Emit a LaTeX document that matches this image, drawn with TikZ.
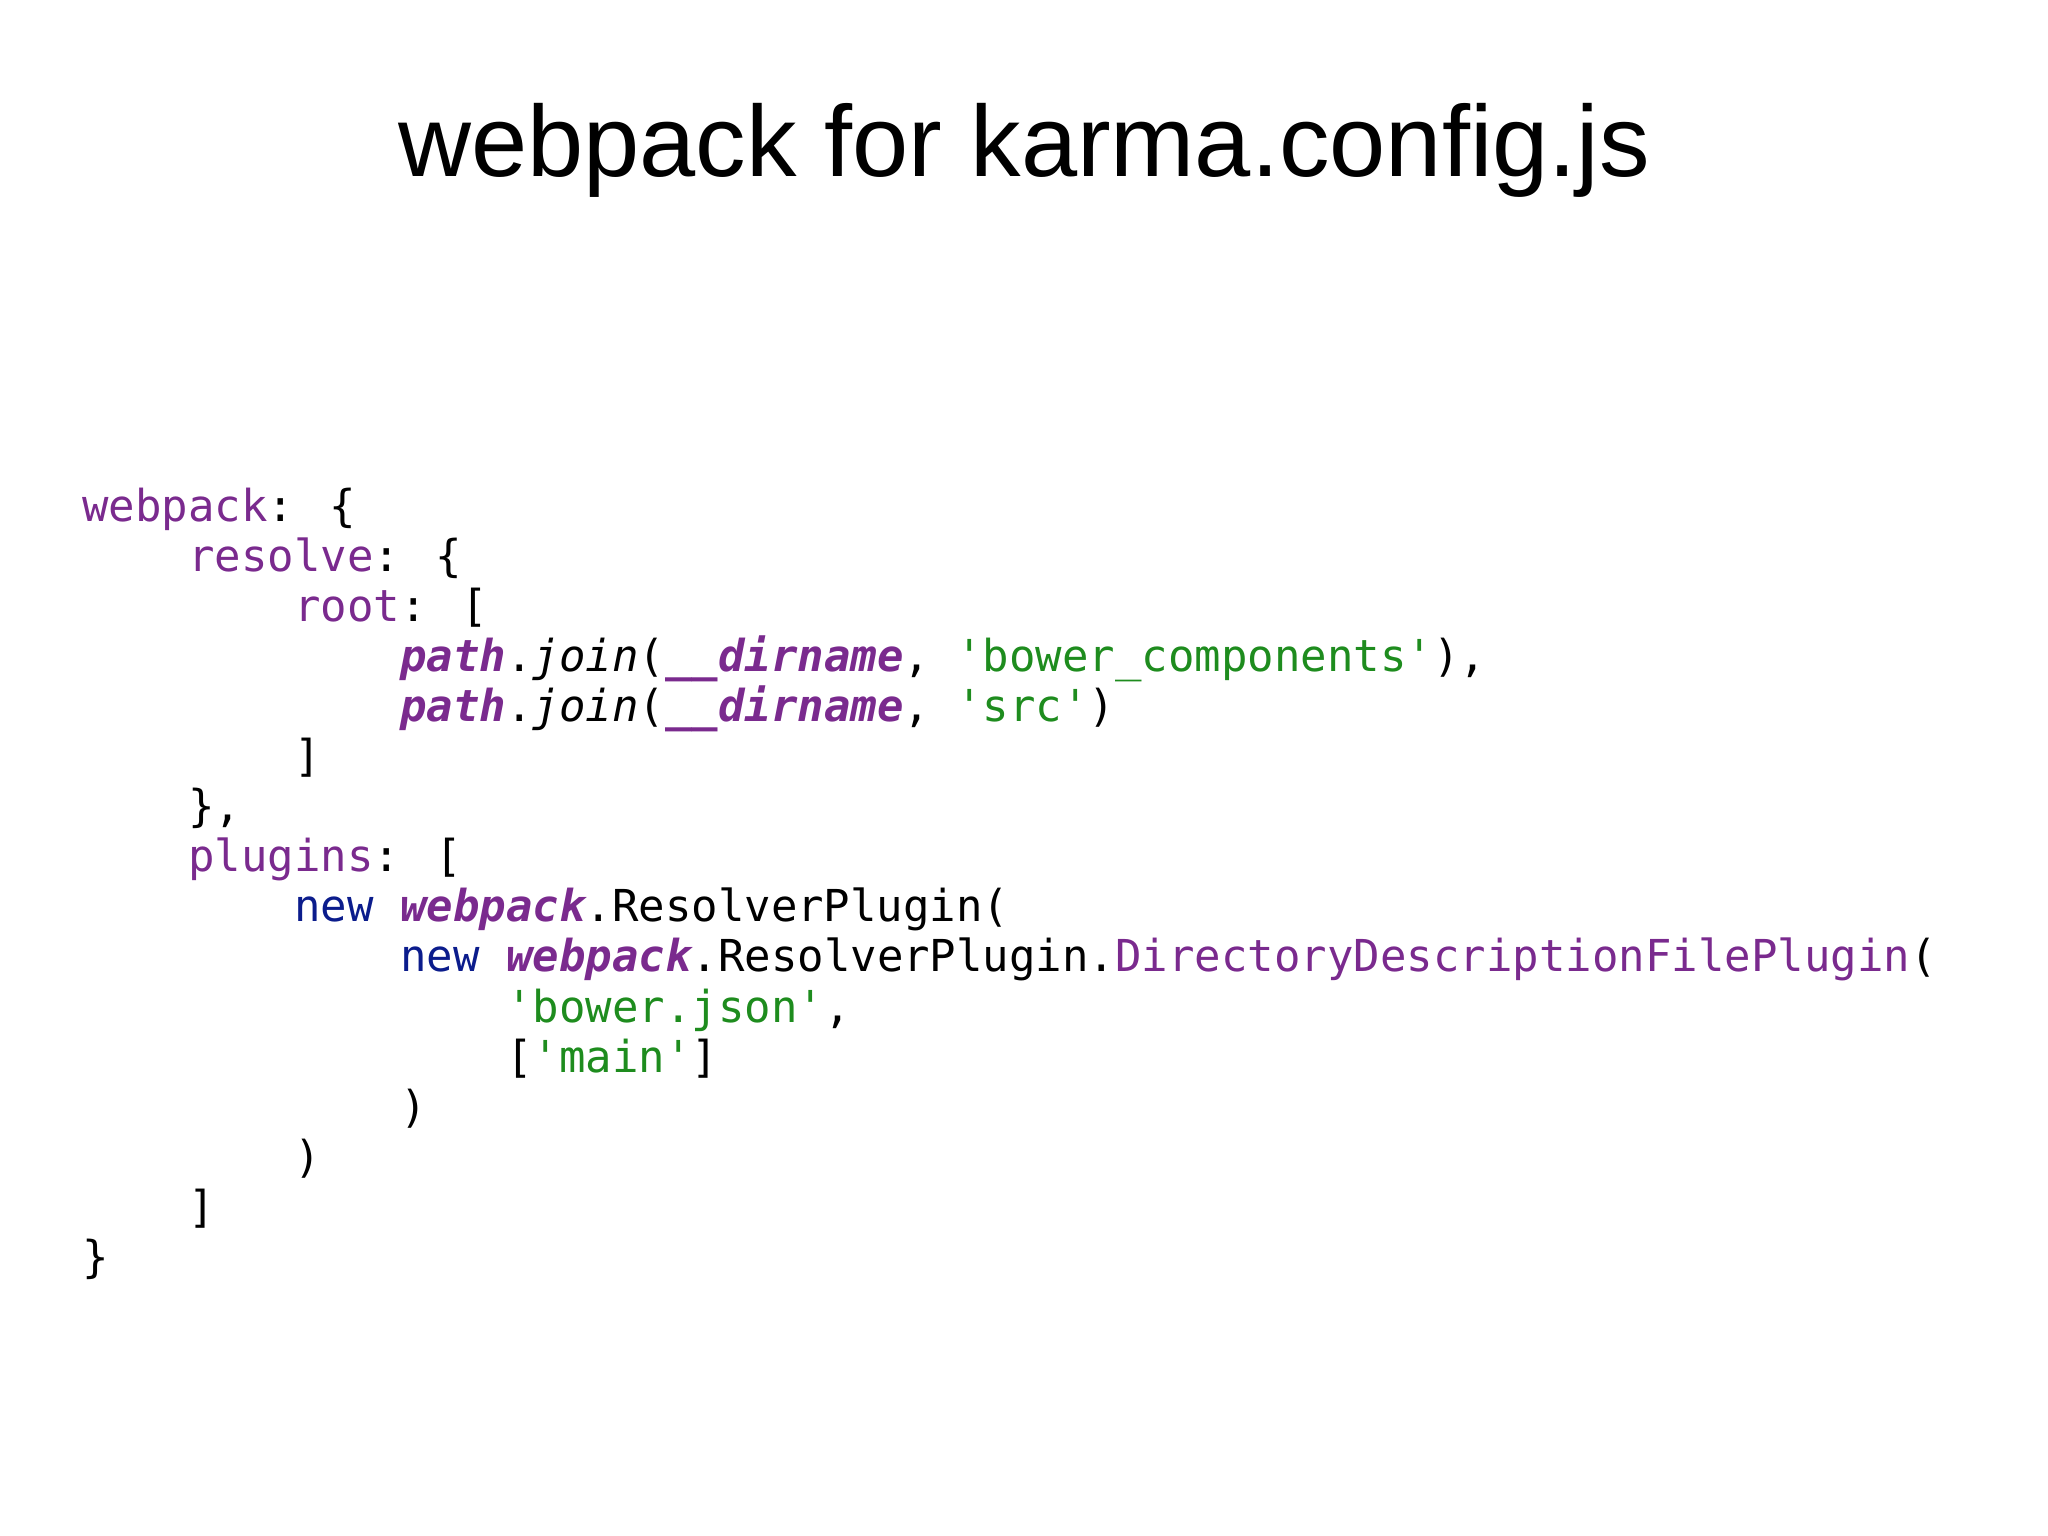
\documentclass[tikz,border=0pt]{standalone}
\usepackage{fontspec}
\setmainfont{Liberation Sans}
\newfontfamily\codefont{DejaVu Sans Mono}
\definecolor{kp}{HTML}{7A2A8E}
\definecolor{kg}{HTML}{1E8C1E}
\definecolor{kb}{HTML}{0B1C8C}
\newcommand{\Kk}[1]{\textcolor{kp}{#1}}
\newcommand{\Gg}[1]{\textcolor{kg}{#1}}
\newcommand{\Bb}[1]{\textcolor{kb}{#1}}
\newcommand{\Vv}[1]{\textcolor{kp}{\bfseries\itshape #1}}
\newcommand{\Ii}[1]{{\itshape #1}}
\begin{document}
\begin{tikzpicture}[x=1pt,y=1pt,
  code/.style={anchor=base west,inner sep=0pt,font=\codefont\fontsize{44}{50}\selectfont}]
\useasboundingbox (0,0) rectangle (2048,-1536);
\fill[white] (0,0) rectangle (2048,-1536);
\node[anchor=base,inner sep=0pt,font=\fontsize{101}{105}\selectfont] (title) at (1024,-176) {webpack for karma.config.js};
\def\cw{26.5}
\def\lh{50.1}
\foreach \lvl/\txt [count=\i from 0] in {
 0/{\Kk{webpack}: \{},
 1/{\Kk{resolve}: \{},
 2/{\Kk{root}: [},
 3/{\Vv{path}.\Ii{join}(\Vv{\_\_dirname}, \Gg{'bower\_components'}),},
 3/{\Vv{path}.\Ii{join}(\Vv{\_\_dirname}, \Gg{'src'})},
 2/{]},
 1/{\},},
 1/{\Kk{plugins}: [},
 2/{\Bb{new} \Vv{webpack}.ResolverPlugin(},
 3/{\Bb{new} \Vv{webpack}.ResolverPlugin.\Kk{DirectoryDescriptionFilePlugin}(},
 4/{\Gg{'bower.json'},},
 4/{[\Gg{'main'}]},
 3/{)},
 2/{)},
 1/{]},
 0/{\}}}
 \node[code] (l\i) at ({82+4*\cw*\lvl},{-521-\lh*\i}) {\txt};
\end{tikzpicture}
\end{document}
